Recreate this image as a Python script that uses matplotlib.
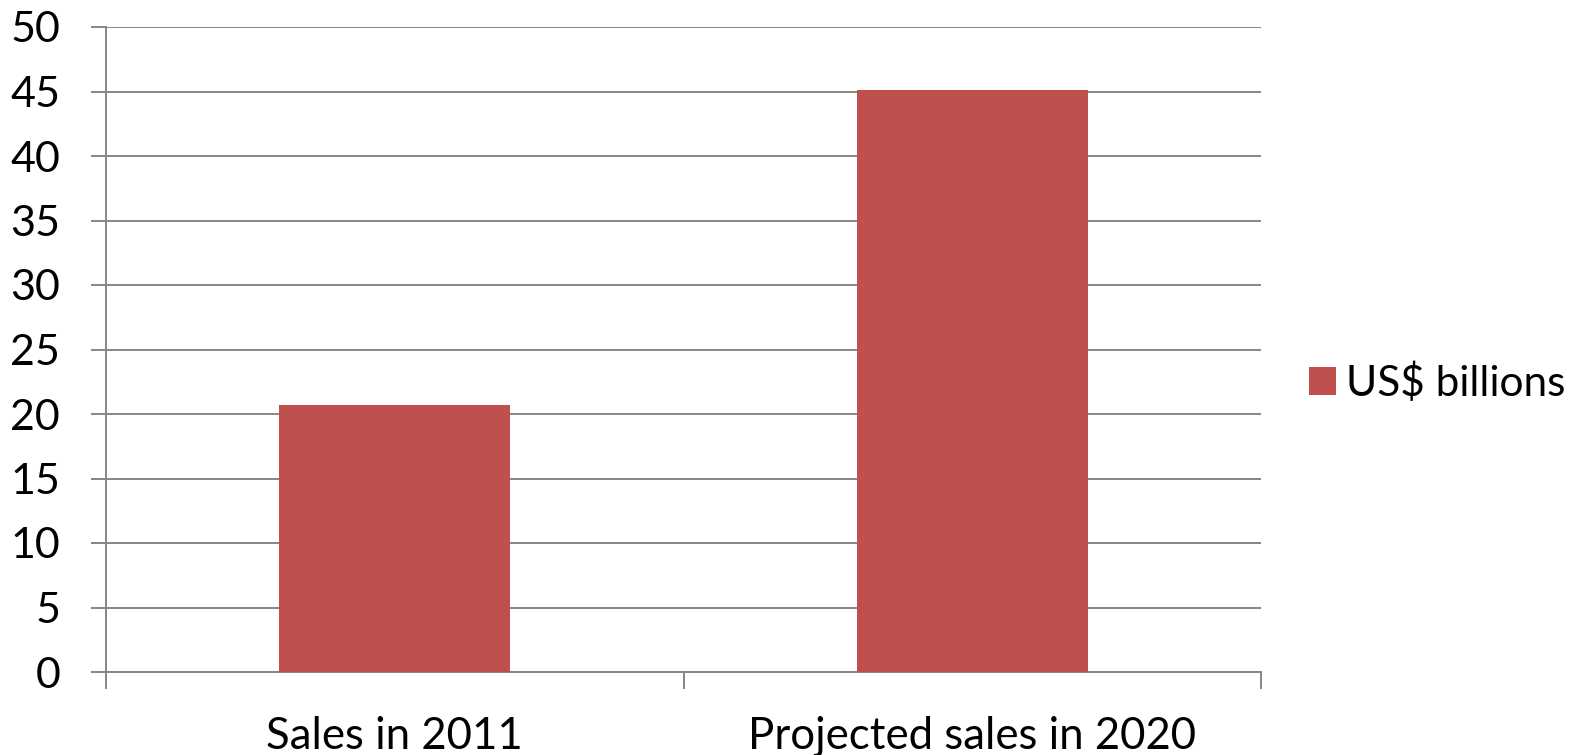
import matplotlib
matplotlib.use("Agg")
import matplotlib.pyplot as plt
from matplotlib.ticker import FixedLocator, NullFormatter, FixedFormatter

categories = ["Sales in 2011", "Projected sales in 2020"]
values = [20.7, 45.1]
series_name = "US$ billions"
yticks = [0, 5, 10, 15, 20, 25, 30, 35, 40, 45, 50]

plt.rcParams['font.family'] = ['Lato', 'DejaVu Sans']
W, H, DPI = 1578, 755, 100
fig = plt.figure(figsize=(W / DPI, H / DPI), dpi=DPI)
ax = fig.add_axes([106 / W, 1 - 672 / H, (1261 - 106) / W, (672 - 27) / H])

grid_c = "#868686"
x = list(range(len(categories)))
ax.bar(x, values, width=0.4, color="#C0504D", label=series_name, zorder=3)

ax.set_xlim(-0.5, len(categories) - 0.5)
ax.set_ylim(0, 50)
ax.set_yticks(yticks)
ax.set_yticklabels([str(v) for v in yticks])
ax.yaxis.grid(True, color=grid_c, linewidth=1.4, zorder=0)

ax.xaxis.set_major_locator(FixedLocator([i - 0.5 for i in range(len(categories) + 1)]))
ax.xaxis.set_major_formatter(NullFormatter())
ax.xaxis.set_minor_locator(FixedLocator(x))
ax.xaxis.set_minor_formatter(FixedFormatter(categories))
ax.tick_params(axis='x', which='major', length=12, width=1.4, color=grid_c, direction='out')
ax.tick_params(axis='x', which='minor', length=0, pad=32, labelsize=31.5)
ax.tick_params(axis='y', which='major', length=11, width=1.4, color=grid_c, direction='out',
               pad=22, labelsize=31)

for s in ['top', 'right']:
    ax.spines[s].set_visible(False)
for s in ['left', 'bottom']:
    ax.spines[s].set_color(grid_c)
    ax.spines[s].set_linewidth(1.4)

fig.legend(loc='center left', bbox_to_anchor=(1309 / W, 1 - 383 / H), frameon=False,
           fontsize=30.5, handlelength=0.63, handleheight=0.63, handletextpad=0.25,
           borderpad=0, borderaxespad=0)

fig.savefig("out.png", dpi=DPI)
